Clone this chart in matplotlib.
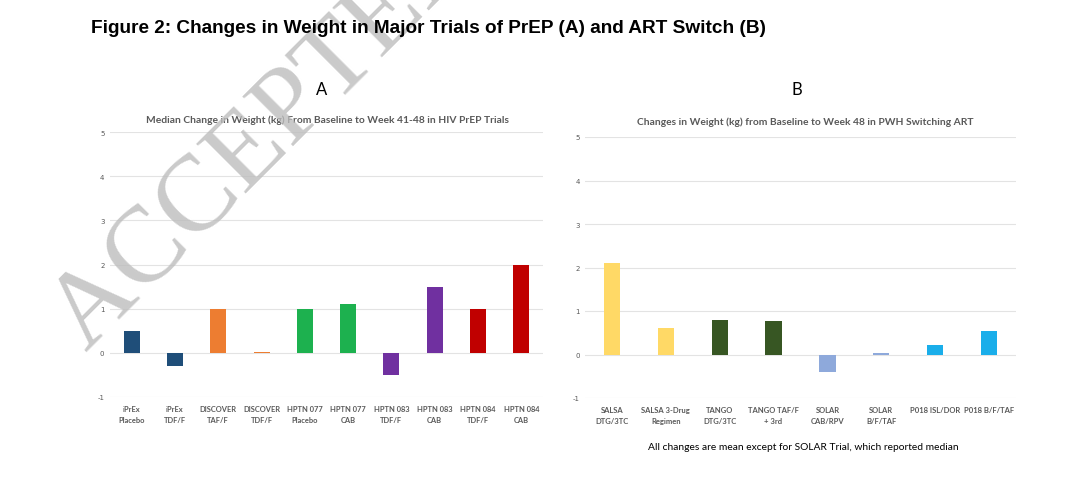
import matplotlib
matplotlib.use("Agg")
import matplotlib.pyplot as plt

# ---- data ----
prep_labels = ["iPrEx\nPlacebo", "iPrEx\nTDF/F", "DISCOVER\nTAF/F", "DISCOVER\nTDF/F",
               "HPTN 077\nPlacebo", "HPTN 077\nCAB", "HPTN 083\nTDF/F", "HPTN 083\nCAB",
               "HPTN 084\nTDF/F", "HPTN 084\nCAB"]
prep_values = [0.5, -0.3, 1.0, 0.02, 1.0, 1.1, -0.5, 1.5, 1.0, 2.0]
prep_colors = ["#1F4E79", "#1F4E79", "#ED7D31", "#ED7D31", "#1DB14F", "#1DB14F",
               "#7030A0", "#7030A0", "#C00000", "#C00000"]

art_labels = ["SALSA\nDTG/3TC", "SALSA 3-Drug\nRegimen", "TANGO\nDTG/3TC", "TANGO TAF/F\n+ 3rd",
              "SOLAR\nCAB/RPV", "SOLAR\nB/F/TAF", "P018 ISL/DOR", "P018 B/F/TAF"]
art_values = [2.1, 0.6, 0.8, 0.76, -0.4, 0.04, 0.22, 0.55]
art_colors = ["#FFD966", "#FFD966", "#375623", "#375623", "#8EA9DB", "#8EA9DB",
              "#1AAEEA", "#1AAEEA"]

yticks = [-1, 0, 1, 2, 3, 4, 5]

W, H = 1080, 502
fig = plt.figure(figsize=(W / 100, H / 100), dpi=100)
fig.patch.set_facecolor("white")
FAM = ["Lato", "DejaVu Sans"]

def px_axes(x0, x1, ytop, ybot):
    return fig.add_axes([x0 / W, (H - ybot) / H, (x1 - x0) / W, (ybot - ytop) / H])

def style(ax, labels, n, ypad, xfs):
    ax.set_ylim(-1, 5)
    ax.set_xlim(-0.5, n - 0.5)
    ax.set_yticks(yticks)
    ax.set_yticklabels([str(t) for t in yticks], fontsize=5, color="#595959")
    ax.set_xticks(range(n))
    ax.set_xticklabels(labels, fontsize=xfs, color="#595959", linespacing=1.6,
                       family=FAM, fontweight="bold")
    ax.tick_params(axis="both", length=0)
    ax.tick_params(axis="y", pad=ypad)
    ax.tick_params(axis="x", pad=6)
    for s in ax.spines.values():
        s.set_visible(False)
    ax.grid(axis="y", color="#e3e3e3", linewidth=0.8)
    ax.set_axisbelow(True)

# Panel A
axA = px_axes(110, 543, 133, 398)
axA.bar(range(len(prep_values)), prep_values, width=0.37, color=prep_colors, zorder=2)
style(axA, prep_labels, len(prep_labels), 4, 5.4)

# Panel B
axB = px_axes(585, 1016, 138, 399)
axB.bar(range(len(art_values)), art_values, width=0.3, color=art_colors, zorder=2)
style(axB, art_labels, len(art_labels), 3.5, 5.5)

# Titles
fig.text(91 / W, 1 - 29 / H,
         "Figure 2: Changes in Weight in Major Trials of PrEP (A) and ART Switch (B)",
         fontsize=13.7, fontweight="bold", family="Liberation Sans",
         ha="left", va="center", color="black", zorder=5)
fig.text(322 / W, 1 - 90 / H, "A", fontsize=12, ha="center", va="center", family=FAM)
fig.text(797 / W, 1 - 90 / H, "B", fontsize=12, ha="center", va="center", family=FAM)
fig.text(327 / W, 1 - 120 / H,
         "Median Change in Weight (kg) From Baseline to Week 41-48 in HIV PrEP Trials",
         fontsize=7.4, fontweight="bold", color="#595959", ha="center", va="center",
         family=FAM)
fig.text(805 / W, 1 - 122 / H,
         "Changes in Weight (kg) from Baseline to Week 48 in PWH Switching ART",
         fontsize=7.4, fontweight="bold", color="#595959", ha="center", va="center",
         family=FAM)
fig.text(803 / W, 1 - 448 / H,
         "All changes are mean except for SOLAR Trial, which reported median",
         fontsize=7.4, color="black", ha="center", va="center", family=FAM)

# Watermark
fig.text(86 / W, 1 - 352 / H, "ACCEPTED", fontsize=78, rotation=45,
         family="Liberation Serif", color="#bdbdbd", alpha=0.8,
         ha="left", va="baseline", rotation_mode="anchor", zorder=4)

fig.savefig("out.png", dpi=100, facecolor="white")
